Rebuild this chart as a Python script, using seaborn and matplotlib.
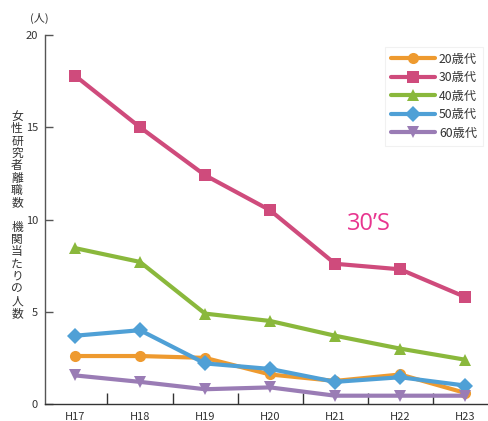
import matplotlib
matplotlib.use("Agg")
import matplotlib.pyplot as plt
import seaborn as sns
import pandas as pd

# Fiscal years (Heisei) and female researcher departures per institution, by age group
years = ["H17", "H18", "H19", "H20", "H21", "H22", "H23"]
age_groups = ["20歳代", "30歳代", "40歳代", "50歳代", "60歳代"]
v20s = [2.6, 2.6, 2.5, 1.6, 1.25, 1.6, 0.6]
v30s = [17.8, 15.0, 12.4, 10.5, 7.6, 7.3, 5.8]
v40s = [8.45, 7.7, 4.9, 4.5, 3.7, 3.0, 2.4]
v50s = [3.7, 4.0, 2.2, 1.9, 1.2, 1.45, 1.0]
v60s = [1.55, 1.2, 0.8, 0.9, 0.45, 0.45, 0.45]
y_ticks = [0, 5, 10, 15, 20]

colors = ["#ee9a2f", "#cf4b7c", "#8ab83c", "#4fa0d6", "#9a7cb5"]
markers = ["o", "s", "^", "D", "v"]

sns.set_theme(style="white")
plt.rcParams["font.family"] = ["Noto Sans CJK JP", "DejaVu Sans"]

rows = []
for grp, vals in zip(age_groups, [v20s, v30s, v40s, v50s, v60s]):
    for i, v in enumerate(vals):
        rows.append({"idx": i, "value": v, "age": grp})
df = pd.DataFrame(rows)

fig = plt.figure(figsize=(4.88, 4.21), dpi=100)
ax = fig.add_axes([45 / 488, 17 / 421, 443 / 488, 369 / 421])

sns.lineplot(
    data=df, x="idx", y="value", hue="age", style="age",
    hue_order=age_groups, style_order=age_groups,
    palette=dict(zip(age_groups, colors)),
    markers=dict(zip(age_groups, markers)), dashes=False,
    linewidth=3.0, markersize=8, markeredgewidth=0,
    ax=ax,
)

ax.set_xlim(-0.46, 6.35)
ax.set_ylim(0, 20)
ax.set_xticks(range(len(years)))
ax.set_xticklabels(years)
ax.set_xticks([i + 0.5 for i in range(len(years) - 1)], minor=True)
ax.set_yticks(y_ticks)
ax.set_yticklabels([str(t) for t in y_ticks])
ax.tick_params(axis="x", which="major", length=0, pad=6, labelsize=8, labelcolor="#333333")
ax.tick_params(axis="x", which="minor", direction="in", length=8, width=1.0, color="#333333", bottom=True)
ax.tick_params(axis="y", which="major", direction="in", length=6, width=1.0, color="#555555",
               left=True, pad=5, labelsize=8, labelcolor="#333333")
ax.set_xlabel("")
ax.set_ylabel("")

for side in ["top", "right"]:
    ax.spines[side].set_visible(False)
ax.spines["left"].set_color("#555555")
ax.spines["left"].set_linewidth(1.0)
ax.spines["bottom"].set_color("#333333")
ax.spines["bottom"].set_linewidth(1.0)

leg = ax.legend(
    loc="upper left", bbox_to_anchor=(334 / 443, 0.985), frameon=True,
    fontsize=8.8, handlelength=3.6, handletextpad=0.3, labelspacing=0.45,
    borderpad=0.5, fancybox=False,
)
leg.get_frame().set_edgecolor("#eeeeee")
leg.get_frame().set_linewidth(0.8)
for t in leg.get_texts():
    t.set_color("#333333")

# Unit label and vertical axis title
fig.text(30 / 488, 1 - 18 / 421, "(人)", fontsize=8, color="#333333", ha="left", va="center")
ylabel = "女性研究者離職数　機関当たりの人数"
fig.text(17 / 488, 1 - 215 / 421, "\n".join(ylabel), fontsize=8.5, color="#333333",
         ha="center", va="center", linespacing=0.93)

# Annotation for the 30s series
ax.text(4.52, 9.75, "30’S", fontsize=17, color="#e8358f", ha="center", va="center",
        family=["Open Sans", "DejaVu Sans"])

fig.savefig("out.png", dpi=100)
